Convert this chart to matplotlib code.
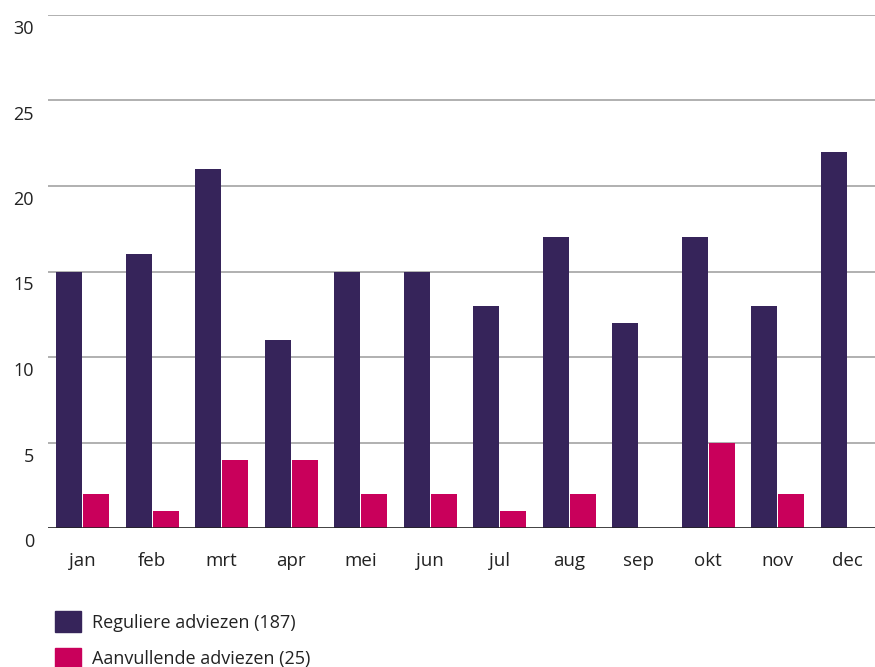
import numpy as np
import matplotlib.pyplot as plt
from matplotlib.patches import Patch

# --------- data ---------
maanden = ["jan", "feb", "mrt", "apr", "mei", "jun", "jul", "aug", "sep", "okt", "nov", "dec"]
regulier = [15, 16, 21, 11, 15, 15, 13, 17, 12, 17, 13, 22]
aanvullend = [2, 1, 4, 4, 2, 2, 1, 2, 0, 5, 2, 0]
yticks = [0, 5, 10, 15, 20, 25, 30]

PAARS = "#36245a"
ROBIJN = "#c9005b"
TXT = "#222222"

plt.rcParams["font.family"] = ["Open Sans", "DejaVu Sans"]

fig = plt.figure(figsize=(8.75, 6.67), dpi=100)
ax = fig.add_axes([48/875, 139/667, 1 - 48/875, 513/667])

x = np.arange(len(maanden))
w = 0.375
ax.bar(x - w/2 - 0.008, regulier, width=w, color=PAARS, zorder=3)
ax.bar(x + w/2 + 0.008, aanvullend, width=w, color=ROBIJN, zorder=3)

ax.set_xlim(-0.5, 11.4)
ax.set_ylim(0, 30)
for s in ax.spines.values():
    s.set_visible(False)

# rasterlijnen
ax.set_yticks(yticks)
ax.yaxis.grid(True, color="#aaaaaa", linewidth=1.3, zorder=0)
ax.axhline(0, color=TXT, linewidth=1.8, zorder=4)
ax.tick_params(axis="y", length=0, labelleft=False)
for v in yticks:
    ax.annotate(str(v), xy=(0, v), xycoords=("axes fraction", "data"),
                xytext=(-14, -5), textcoords="offset pixels",
                ha="right", va="top", fontsize=13, color=TXT)

ax.set_xticks(x)
ax.set_xticklabels(maanden, fontsize=13.5, color=TXT)
ax.tick_params(axis="x", length=0, pad=17)

handles = [Patch(color=PAARS, label=f"Reguliere adviezen ({sum(regulier)})"),
           Patch(color=ROBIJN, label=f"Aanvullende adviezen ({sum(aanvullend)})")]
fig.legend(handles=handles, loc="upper left", bbox_to_anchor=(55/875, 1 - 611/667),
           frameon=False, fontsize=13, handlelength=1.45, handleheight=1.45,
           handletextpad=0.6, labelspacing=0.85, borderaxespad=0, borderpad=0,
           labelcolor=TXT)

fig.savefig("out.png", dpi=100)
